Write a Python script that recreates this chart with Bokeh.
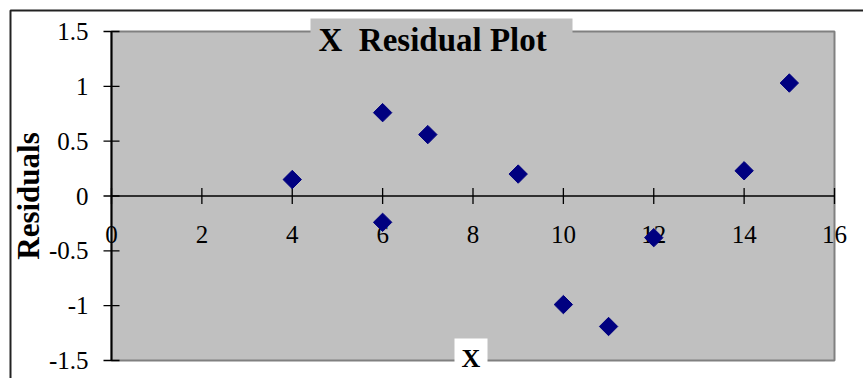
import numpy as np
from bokeh.plotting import figure
from bokeh.models import Range1d
from bokeh.core.properties import value
from bokeh.embed import file_html
from bokeh.resources import INLINE

# Residuals of the fitted model against the X variable
x_values = [4, 6, 6, 7, 9, 10, 11, 12, 14, 15]
residuals = [0.15, 0.76, -0.24, 0.56, 0.20, -0.99, -1.19, -0.38, 0.23, 1.03]

x_ticks = [0, 2, 4, 6, 8, 10, 12, 14, 16]
x_tick_labels = ["0", "2", "4", "6", "8", "10", "12", "14", "16"]
y_ticks = [-1.5, -1.0, -0.5, 0.0, 0.5, 1.0, 1.5]
y_tick_labels = ["-1.5", "-1", "-0.5", "0", "0.5", "1", "1.5"]

W, H = 863, 378
SERIF = value("Liberation Serif")
PLOT_GRAY = "#C0C0C0"

# plot area sits at pixels x 111..834, y 31..360 of the canvas; the ranges are
# widened so that the whole canvas is the drawing frame (axes drawn by hand)
X0, X1 = 0.0, 16.0
Y0, Y1 = -1.5, 1.5
px_left, px_right, px_top, px_bottom = 111, 834, 31, 360
sx = (px_right - px_left) / (X1 - X0)
sy = (px_bottom - px_top) / (Y1 - Y0)


def dx(px):
    return X0 + (px - px_left) / sx


def dy(py):
    return Y1 - (py - px_top) / sy


p = figure(width=W, height=H,
           x_range=Range1d(dx(0), dx(W)), y_range=Range1d(dy(H), dy(0)),
           x_axis_location=None, y_axis_location=None,
           toolbar_location=None, output_backend="svg",
           min_border=0, background_fill_color="white",
           border_fill_color="white", outline_line_color=None)
p.grid.visible = False

# chart border (left and top edges fall inside the canvas)
p.quad(left=[dx(10)], right=[dx(W + 40)], top=[dy(10)], bottom=[dy(H + 40)],
       fill_alpha=0, line_color="#222222", line_width=2)

# plot area
p.quad(left=[X0], right=[X1], bottom=[Y0], top=[Y1],
       fill_color=PLOT_GRAY, line_color="#808080", line_width=2)

# title box and title
p.quad(left=[dx(310)], right=[dx(572)], top=[dy(18)], bottom=[dy(45)],
       fill_color=PLOT_GRAY, line_alpha=0)
p.text(x=[dx(318)], y=[dy(39)], text=["X\u00a0\u00a0Residual Plot"],
       text_font=SERIF, text_font_style="bold", text_font_size="33px",
       text_align="left", text_baseline="middle", text_color="black")

# vertical axis
tick_w = 8 / sx
p.segment(x0=[X0], x1=[X0], y0=[Y0], y1=[Y1], line_color="black", line_width=2)
p.segment(x0=[X0 - tick_w] * len(y_ticks), x1=[X0 + tick_w] * len(y_ticks),
          y0=y_ticks, y1=y_ticks, line_color="black", line_width=1.3)
p.text(x=[X0 - 23 / sx] * len(y_ticks), y=y_ticks, text=y_tick_labels,
       text_font=SERIF, text_font_size="25px", text_align="right",
       text_baseline="middle", text_color="black")
p.text(x=[dx(27.5)], y=[(Y0 + Y1) / 2], text=["Residuals"], angle=np.pi / 2,
       text_font=SERIF, text_font_style="bold", text_font_size="31px",
       text_align="center", text_baseline="middle", text_color="black")

# horizontal axis crossing at zero
tick_h = 8 / sy
p.segment(x0=[X0], x1=[X1], y0=[0], y1=[0], line_color="black", line_width=1.3)
p.segment(x0=x_ticks, x1=x_ticks, y0=[-tick_h] * len(x_ticks),
          y1=[tick_h] * len(x_ticks), line_color="black", line_width=1.3)
p.text(x=x_ticks, y=[dy(233.5)] * len(x_ticks), text=x_tick_labels,
       text_font=SERIF, text_font_size="25px", text_align="center",
       text_baseline="middle", text_color="black")

# data points
p.scatter(x_values, residuals, marker="square", size=13, angle=np.pi / 4,
          fill_color="#000080", line_color="#000080")

# x-axis title box and title
p.quad(left=[dx(454)], right=[dx(487)], top=[dy(338)], bottom=[dy(H + 40)],
       fill_color="white", line_alpha=0)
p.text(x=[dx(470.5)], y=[dy(357.5)], text=["X"],
       text_font=SERIF, text_font_style="bold", text_font_size="26px",
       text_align="center", text_baseline="middle", text_color="black")

open("out.html", "w").write(file_html(p, INLINE))
